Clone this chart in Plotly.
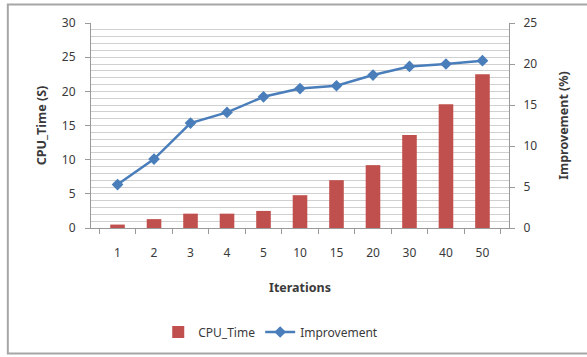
import plotly.graph_objects as go

# Iteration counts on the category axis
iterations = ["1", "2", "3", "4", "5", "10", "15", "20", "30", "40", "50"]
# CPU time in seconds (left axis, bars)
cpu_time = [0.5, 1.3, 2.1, 2.1, 2.5, 4.8, 7.0, 9.2, 13.6, 18.1, 22.5]
# Improvement in percent (right axis, line)
improvement = [5.3, 8.4, 12.8, 14.1, 16.0, 17.0, 17.35, 18.65, 19.7, 20.0, 20.4]

FONT = "Noto Sans"
TXT = "#3a3a3a"
AXIS = "#9a9a9a"

fig = go.Figure()
fig.add_trace(go.Bar(
    x=iterations, y=cpu_time, name="CPU_Time",
    marker=dict(color="#C0504D", line=dict(width=0)),
    width=0.4, yaxis="y",
))
fig.add_trace(go.Scatter(
    x=iterations, y=improvement, name="Improvement",
    mode="lines+markers",
    line=dict(color="#4A7EBB", width=2.5),
    marker=dict(symbol="diamond", size=9, color="#4A7EBB"),
    yaxis="y2",
))

fig.update_layout(
    width=587, height=357,
    margin=dict(l=91, r=78, t=23, b=128),
    paper_bgcolor="white", plot_bgcolor="white",
    font=dict(family=FONT, size=12, color=TXT),
    showlegend=True,
    legend=dict(orientation="h", x=0.43, xanchor="center", y=-0.5, yanchor="middle",
                font=dict(size=12, color=TXT), itemwidth=30, traceorder="normal"),
    xaxis=dict(
        type="category", showline=True, linecolor=AXIS, linewidth=1,
        ticks="outside", tickson="boundaries", ticklen=5, tickcolor=AXIS,
        ticklabelstandoff=14,
        tickfont=dict(size=12, color=TXT), showgrid=False,
        title=dict(text="<b>Iterations</b>", font=dict(size=12.5, color=TXT), standoff=22),
    ),
    yaxis=dict(
        range=[0, 30], dtick=5, showline=True, linecolor=AXIS, linewidth=1,
        ticks="outside", ticklen=5, tickcolor=AXIS, ticklabelstandoff=7,
        tickfont=dict(size=12, color=TXT),
        showgrid=True, gridcolor="#d0d0d0", gridwidth=1,
        minor=dict(dtick=1, showgrid=True, gridcolor="#d0d0d0", gridwidth=1),
        zeroline=False,
        title=dict(text="<b>CPU_Time (S)</b>", font=dict(size=12.5, color=TXT), standoff=12),
    ),
    yaxis2=dict(
        range=[0, 25], dtick=5, overlaying="y", side="right",
        showline=True, linecolor=AXIS, linewidth=1,
        ticks="outside", ticklen=5, tickcolor=AXIS, ticklabelstandoff=6,
        tickfont=dict(size=12, color=TXT), showgrid=False, zeroline=False,
        title=dict(text="<b>Improvement (%)</b>", font=dict(size=12.5, color=TXT), standoff=22),
    ),
)

# Chart-area frame (open on the right edge)
fig.add_shape(type="rect", xref="paper", yref="paper",
              x0=-0.199, x1=1.35, y0=-0.612, y1=1.09,
              line=dict(color="#a6a6a6", width=2), layer="below")

fig.write_html("out.html")
